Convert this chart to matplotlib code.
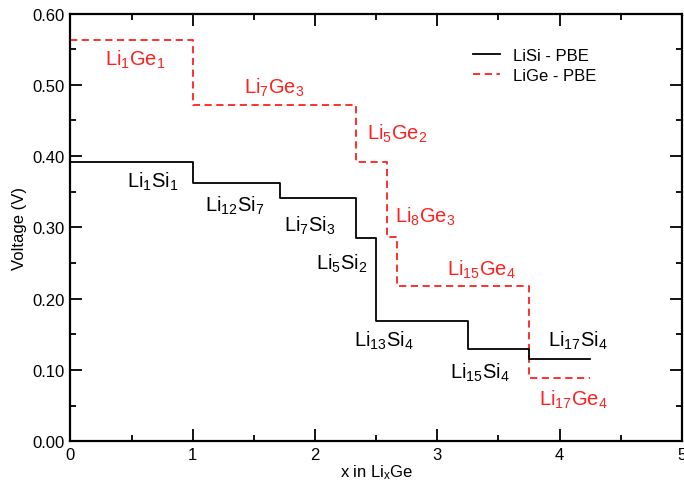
import matplotlib
matplotlib.use("Agg")
import matplotlib.pyplot as plt
from matplotlib.ticker import MultipleLocator, FormatStrFormatter

plt.rcParams['font.family'] = ['Liberation Sans', 'DejaVu Sans']
plt.rcParams['mathtext.fontset'] = 'custom'
plt.rcParams['mathtext.rm'] = 'Liberation Sans'
plt.rcParams['mathtext.it'] = 'Liberation Sans'

# LiSi - PBE step data (x edges, voltage of each plateau)
si_x = [0, 1.0, 1.714, 2.333, 2.5, 3.25, 3.75, 4.25]
si_v = [0.392, 0.363, 0.341, 0.285, 0.169, 0.129, 0.115]
# LiGe - PBE step data
ge_x = [0, 1.0, 2.333, 2.59, 2.667, 3.75, 4.25]
ge_v = [0.563, 0.472, 0.392, 0.287, 0.218, 0.089]

si_labels = ["Li$_{1}$Si$_{1}$", "Li$_{12}$Si$_{7}$", "Li$_{7}$Si$_{3}$", "Li$_{5}$Si$_{2}$",
             "Li$_{13}$Si$_{4}$", "Li$_{15}$Si$_{4}$", "Li$_{17}$Si$_{4}$"]
si_lx = [0.67, 1.34, 1.96, 2.22, 2.56, 3.35, 4.15]
si_ly = [0.366, 0.331, 0.303, 0.251, 0.142, 0.098, 0.142]

ge_labels = ["Li$_{1}$Ge$_{1}$", "Li$_{7}$Ge$_{3}$", "Li$_{5}$Ge$_{2}$", "Li$_{8}$Ge$_{3}$",
             "Li$_{15}$Ge$_{4}$", "Li$_{17}$Ge$_{4}$"]
ge_lx = [0.53, 1.67, 2.67, 2.90, 3.36, 4.11]
ge_ly = [0.537, 0.497, 0.432, 0.316, 0.242, 0.059]

fig = plt.figure(figsize=(6.84, 4.85), dpi=100)
ax = fig.add_axes([0.103, 0.088, 0.894, 0.882])

ax.step(si_x, si_v + [si_v[-1]], where='post', color='black', lw=1.3, label='LiSi - PBE', zorder=3)
ax.step(ge_x, ge_v + [ge_v[-1]], where='post', color='#ff2020', lw=1.3, ls=(0, (4, 2.5)),
        label='LiGe - PBE', zorder=2)

for t, x, y in zip(si_labels, si_lx, si_ly):
    ax.text(x, y, t, color='black', fontsize=14.5, ha='center', va='center')
for t, x, y in zip(ge_labels, ge_lx, ge_ly):
    ax.text(x, y, t, color='#ff2020', fontsize=14.5, ha='center', va='center')

ax.set_xlim(0, 5)
ax.set_ylim(0, 0.6)
ax.xaxis.set_major_locator(MultipleLocator(1))
ax.xaxis.set_minor_locator(MultipleLocator(0.5))
ax.yaxis.set_major_locator(MultipleLocator(0.1))
ax.yaxis.set_minor_locator(MultipleLocator(0.05))
ax.yaxis.set_major_formatter(FormatStrFormatter('%.2f'))
ax.tick_params(which='both', direction='in', top=True, right=True, labelsize=12, width=1.3)
ax.tick_params(which='major', length=8.5, pad=4)
ax.tick_params(which='minor', length=4.3)
for s in ax.spines.values():
    s.set_linewidth(1.6)

ax.set_xlabel("x in Li$_{x}$Ge", fontsize=12, labelpad=0)
ax.set_ylabel("Voltage (V)", fontsize=12, labelpad=4)

leg = ax.legend(loc='upper right', bbox_to_anchor=(0.885, 0.955), frameon=False, fontsize=12,
                handlelength=1.6, handletextpad=0.8, labelspacing=0.3)

fig.savefig("out.png", dpi=100)
